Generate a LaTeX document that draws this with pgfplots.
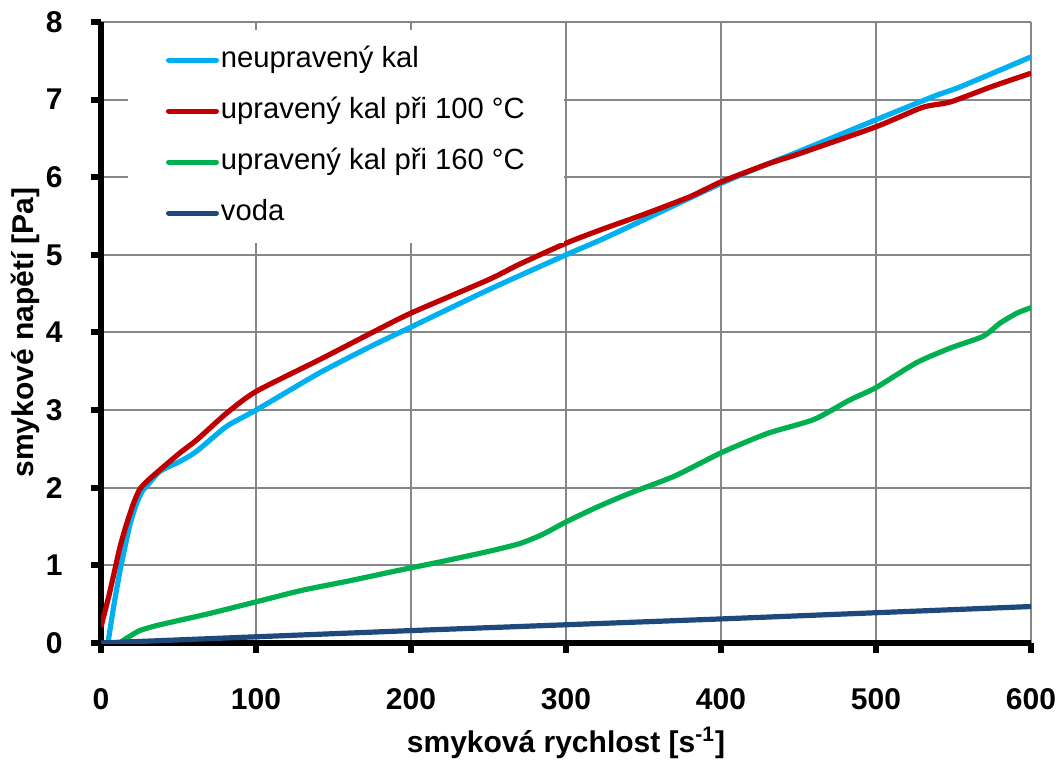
\documentclass[border=0pt]{standalone}
\usepackage{fontspec}
\setmainfont{Liberation Sans}
\usepackage{pgfplots}
\pgfplotsset{compat=1.18}

\definecolor{kalblue}{HTML}{00B0F0}
\definecolor{kalred}{HTML}{C00000}
\definecolor{kalgreen}{HTML}{00B050}
\definecolor{vodablue}{HTML}{1F497D}
\definecolor{gridgray}{RGB}{134,134,134}

\begin{document}
\begin{tikzpicture}
\begin{axis}[
  scale only axis, width=465pt, height=310.5pt,
  xmin=0, xmax=600, ymin=0, ymax=8,
  xtick={0,100,...,600}, ytick={0,1,...,8},
  axis x line*=bottom, axis y line*=left,
  axis line style={line width=3pt, black},
  tick align=outside, major tick length=5pt,
  major tick style={line width=3pt, black},
  grid=major, major grid style={line width=1pt, gridgray},
  /pgf/number format/assume math mode=true,
  ticklabel style={font=\bfseries\fontsize{15}{15}\selectfont, inner sep=0pt},
  yticklabel style={anchor=east, xshift=-14pt},
  xticklabel style={anchor=north, yshift=-17.5pt},
  xlabel={smyková rychlost [s\textsuperscript{-1}]},
  ylabel={smykové napětí [Pa]},
  label style={font=\bfseries\fontsize{15}{18}\selectfont},
  xlabel style={at={(axis description cs:0.5,-0.161)}, anchor=center},
  ylabel style={at={(axis description cs:-0.0817,0.5)}, anchor=center},
  legend style={at={(axis description cs:0.029,0.9871)}, anchor=north west,
    draw=none, fill=white, font=\fontsize{14.6}{14.6}\selectfont,
    inner xsep=18.8pt, inner ysep=7.1pt, row sep=10pt,
    nodes={inner sep=1pt, text height=10.4pt, text depth=3.1pt}},
  legend cell align=left,
  legend image code/.code={\draw[#1, line width=2.6pt, line cap=round] (0pt,0pt) -- (23.9pt,0pt);},
  every axis plot/.append style={line width=2.6pt, line join=round},
]
\addplot[kalblue, smooth, tension=0.4] coordinates {
  (4.5,0) (8,0.45) (12,0.9) (15.5,1.24) (19,1.55) (23,1.8) (27,1.97)
  (29.5,2.02) (38,2.21) (51,2.34) (61.7,2.47) (81,2.79) (100,3.0) (141,3.48)
  (175,3.83) (200,4.07) (250,4.55) (300,5.0) (322,5.19) (350,5.45) (400,5.92)
  (430,6.17) (450,6.33) (500,6.74) (537,7.04) (555,7.17) (600,7.55)
};
\addlegendentry{neupravený kal}
\addplot[kalred, smooth, tension=0.4] coordinates {
  (0,0.21) (5,0.6) (9,0.95) (12.3,1.24) (16,1.5) (21,1.8) (25,1.98)
  (29.5,2.08) (38,2.23) (51,2.45) (62,2.62) (81,2.96) (100,3.24) (141,3.65)
  (175,4.0) (200,4.25) (250,4.68) (270,4.88) (300,5.15) (322,5.32) (350,5.52)
  (380,5.75) (400,5.94) (430,6.17) (450,6.3) (500,6.65) (530,6.9) (548,6.97)
  (575,7.17) (600,7.34)
};
\addlegendentry{upravený kal při 100 °C}
\addplot[kalgreen, smooth, tension=0.4] coordinates {
  (12,0) (18,0.08) (25,0.16) (35,0.22) (50,0.29) (70,0.38) (100,0.53)
  (130,0.68) (160,0.8) (193,0.94) (220,1.05) (250,1.18) (270,1.28) (285,1.4)
  (300,1.56) (320,1.75) (340,1.92) (370,2.15) (400,2.45) (430,2.7) (460,2.88)
  (483,3.13) (500,3.29) (526,3.61) (548,3.8) (569,3.95) (580,4.12) (591,4.25)
  (600,4.32)
};
\addlegendentry{upravený kal při 160 °C}
\addplot[vodablue] coordinates {
  (0,0) (100,0.08) (200,0.16) (300,0.235) (400,0.31) (500,0.39) (600,0.47)
};
\addlegendentry{voda}
\end{axis}
\pgfresetboundingbox
\path[use as bounding box] ([shift={(-50.5pt,-58.5pt)}]current axis.south west)
  rectangle ([shift={(14.5pt,11pt)}]current axis.north east);
\end{tikzpicture}
\end{document}
